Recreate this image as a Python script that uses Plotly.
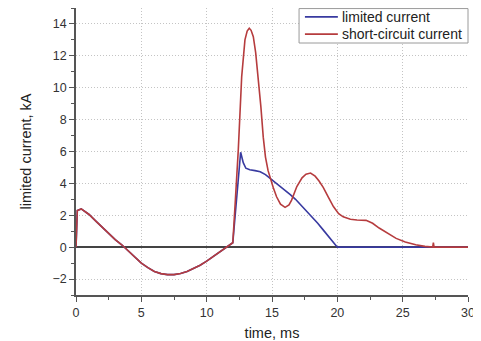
import plotly.graph_objects as go

# shared oscillation before limiting (0..12 ms)
t_pre = [0, 0.1, 0.4, 1.0, 1.5, 2.0, 2.5, 3.0, 3.5, 4.0, 4.5, 5.0, 5.5, 6.0, 6.5, 7.0,
         7.5, 8.0, 8.5, 9.0, 9.5, 10.0, 10.5, 11.0, 11.5, 12.0]
i_pre = [0, 2.3, 2.4, 2.05, 1.65, 1.25, 0.85, 0.47, 0.15, -0.25, -0.65, -1.0, -1.28,
         -1.52, -1.66, -1.72, -1.72, -1.65, -1.53, -1.35, -1.13, -0.88, -0.58, -0.28, 0.0, 0.28]

# limited current after 12 ms
t_lim = [12.6, 12.8, 13.0, 13.3, 13.7, 14.1, 14.5, 14.85, 15.2, 15.6, 16.0, 16.4, 16.8,
         17.2, 17.65, 18.0, 18.5, 18.9, 19.3, 19.7, 20.0, 30.0]
i_lim = [5.95, 5.3, 4.95, 4.85, 4.8, 4.73, 4.55, 4.33, 4.1, 3.85, 3.55, 3.3, 3.0,
         2.65, 2.3, 2.0, 1.5, 1.1, 0.7, 0.25, 0.0, 0.0]

# short-circuit current after 12 ms
t_sc = [12.2, 12.42, 12.68, 12.93, 13.1, 13.26, 13.4, 13.57, 13.75, 13.95, 14.15, 14.33,
        14.5, 14.7, 14.9, 15.1, 15.35, 15.65, 16.0, 16.3, 16.5, 16.9, 17.3, 17.6, 17.95, 18.3,
        18.6, 18.92, 19.3, 19.7, 20.1, 20.45, 21.0, 21.5, 22.2, 22.7, 23.2, 23.8, 24.5,
        25.2, 26.0, 26.7, 27.3, 27.35, 27.4, 30.0]
i_sc = [3.0, 6.1, 10.7, 13.0, 13.55, 13.73, 13.6, 13.2, 12.2, 10.7, 8.8, 6.9,
        5.65, 4.8, 4.2, 3.72, 3.16, 2.7, 2.5, 2.65, 2.95, 3.8, 4.35, 4.58, 4.65, 4.45,
        4.15, 3.75, 3.15, 2.55, 2.1, 1.9, 1.75, 1.7, 1.68, 1.5, 1.2, 0.88, 0.55,
        0.33, 0.15, 0.05, 0.0, 0.28, 0.0, 0.0]

series_names = ["limited current", "short-circuit current"]
blue = "#383aa0"
red = "#b63c3e"

fig = go.Figure()
fig.add_trace(go.Scatter(x=t_pre + t_lim, y=i_pre + i_lim, mode="lines",
                         name=series_names[0], line=dict(color=blue, width=1.6)))
fig.add_trace(go.Scatter(x=t_pre + t_sc, y=i_pre + i_sc, mode="lines",
                         name=series_names[1], line=dict(color=red, width=1.6)))

axis_common = dict(
    showline=True, linecolor="#555555", linewidth=1.5,
    ticks="outside", ticklen=5, tickwidth=1.2, tickcolor="#555555",
    showgrid=True, gridcolor="#c4c4c4", griddash="1px,2px", gridwidth=1,
    tickfont=dict(family="Liberation Sans, Arial", size=12.5, color="#333333"),
    mirror=False, automargin=False,
)

# compact legend box (drawn in paper coordinates, upper-right of plot area)
legend_shapes = [
    dict(type="rect", xref="paper", yref="paper", x0=0.569, x1=1.0, y0=0.878, y1=0.998,
         line=dict(color="#9a9a9a", width=1), fillcolor="white", layer="above"),
]
legend_annots = []
for k, (nm, col) in enumerate(zip(series_names, [blue, red])):
    yy = 0.969 - k * 0.06
    legend_shapes.append(dict(type="line", xref="paper", yref="paper", x0=0.584, x1=0.668,
                              y0=yy, y1=yy, line=dict(color=col, width=1.6), layer="above"))
    legend_annots.append(dict(text=nm, xref="paper", yref="paper", x=0.674, y=yy,
                              xanchor="left", yanchor="middle", showarrow=False,
                              font=dict(family="Liberation Sans, Arial", size=14, color="#222222")))

# page body has an 8px default margin, so the figure is sized to fill the rest
fig.update_layout(
    width=473, height=333,
    margin=dict(l=68, r=13, t=0, b=46),
    paper_bgcolor="white", plot_bgcolor="white",
    font=dict(family="Liberation Sans, Arial", size=12, color="#333333"),
    xaxis=dict(range=[0, 30], dtick=5, tick0=0, zeroline=False,
               minor=dict(ticks="outside", ticklen=3, dtick=2.5, tickcolor="#555555", showgrid=False),
               title=dict(text="time, ms", font=dict(size=14.5, color="#222222"), standoff=11),
               **axis_common),
    yaxis=dict(range=[-3, 15], dtick=2, tick0=0,
               zeroline=True, zerolinecolor="#444444", zerolinewidth=1.5,
               minor=dict(ticks="outside", ticklen=3, dtick=1, tickcolor="#555555", showgrid=False),
               title=dict(text="limited current, kA", font=dict(size=14.5, color="#222222"), standoff=17),
               **axis_common),
    shapes=legend_shapes,
    annotations=legend_annots,
    showlegend=False,
)

fig.write_html("out.html")
